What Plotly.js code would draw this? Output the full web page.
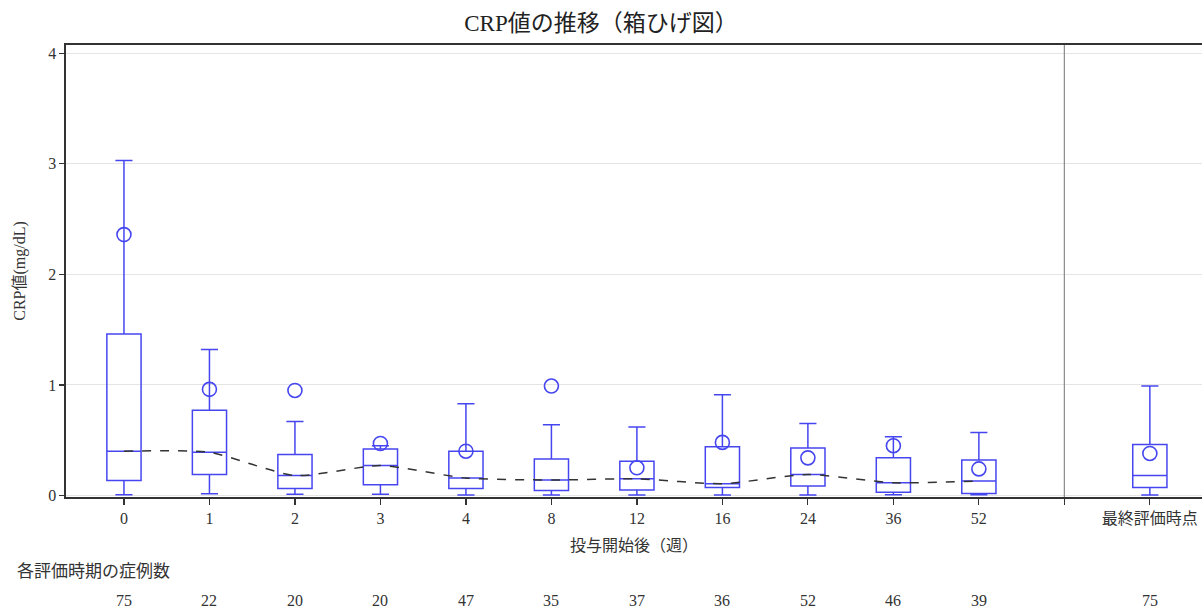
<!DOCTYPE html>
<html>
<head>
<meta charset="utf-8">
<script src="https://cdn.plot.ly/plotly-3.0.1.min.js"></script>
<style>
  html, body { margin: 0; padding: 0; background: #ffffff; }
  #chart { width: 1202px; height: 610px; }
</style>
</head>
<body>
<div id="chart"></div>
<script>
// Visit labels (weeks after start of dosing) and the final evaluation point
const categories = ['0', '1', '2', '3', '4', '8', '12', '16', '24', '36', '52', '最終評価時点'];
// Number of cases at each evaluation point
const counts = [75, 22, 20, 20, 47, 35, 37, 36, 52, 46, 39, 75];
// CRP (mg/dL) box statistics per visit
const lowerWhisker = [0.006, 0.015, 0.012, 0.012, 0.003, 0.003, 0.003, 0.003, 0.003, 0.006, 0.006, 0.003];
const q1Values     = [0.136, 0.19, 0.063, 0.097, 0.063, 0.045, 0.05, 0.072, 0.085, 0.03, 0.018, 0.072];
const medianValues = [0.40, 0.39, 0.18, 0.27, 0.157, 0.14, 0.15, 0.106, 0.19, 0.115, 0.13, 0.18];
const q3Values     = [1.46, 0.77, 0.37, 0.42, 0.40, 0.33, 0.31, 0.44, 0.43, 0.34, 0.32, 0.46];
const upperWhisker = [3.03, 1.32, 0.67, 0.45, 0.83, 0.64, 0.62, 0.91, 0.65, 0.53, 0.57, 0.99];
const meanValues   = [2.36, 0.96, 0.95, 0.47, 0.40, 0.99, 0.25, 0.48, 0.34, 0.45, 0.24, 0.38];
const yTicks = [0, 1, 2, 3, 4];

// Weekly visits sit on 0..10; the final evaluation is set apart after a divider slot
const nWeekly = categories.length - 1;
const positions = categories.map((c, i) => (i < nWeekly ? i : i + 1));
const dividerPos = nWeekly;

const BLUE = 'rgb(70,70,240)';
const FONT = "'Liberation Serif', 'Noto Sans CJK JP', serif";

const boxTrace = {
  type: 'box',
  x: positions,
  q1: q1Values,
  median: medianValues,
  q3: q3Values,
  lowerfence: lowerWhisker,
  upperfence: upperWhisker,
  width: 0.40,
  whiskerwidth: 0.5,
  boxpoints: false,
  line: { color: BLUE, width: 1.5 },
  fillcolor: 'rgba(255,255,255,0)',
  hoverinfo: 'skip',
  showlegend: false
};

const meanTrace = {
  type: 'scatter',
  mode: 'markers',
  x: positions,
  y: meanValues,
  marker: { symbol: 'circle-open', size: 14, color: BLUE, line: { width: 1.6, color: BLUE } },
  hoverinfo: 'skip',
  showlegend: false
};

// Median trend across weekly visits (final evaluation excluded)
const medianTrend = {
  type: 'scatter',
  mode: 'lines',
  x: positions.slice(0, nWeekly),
  y: medianValues.slice(0, nWeekly),
  line: { color: '#333333', width: 1.5, dash: 'dash', shape: 'spline', smoothing: 0.6 },
  hoverinfo: 'skip',
  showlegend: false
};

const tickVals = positions.slice(0, nWeekly).concat([dividerPos, positions[nWeekly]]);
const tickText = categories.slice(0, nWeekly).concat(['', categories[nWeekly]]);

const countAnnotations = counts.map((n, i) => ({
  x: positions[i], xref: 'x',
  y: -0.228, yref: 'paper',
  text: String(n), showarrow: false,
  font: { family: FONT, size: 16, color: '#333333' },
  xanchor: 'center', yanchor: 'middle'
}));

const layout = {
  width: 1202,
  height: 610,
  margin: { l: 66, r: 0, t: 45, b: 113 },
  paper_bgcolor: '#ffffff',
  plot_bgcolor: '#ffffff',
  font: { family: FONT, size: 16, color: '#333333' },
  title: {
    text: 'CRP値の推移（箱ひげ図）',
    font: { family: FONT, size: 23, color: '#222222' },
    x: 0.5, xanchor: 'center', y: 0.962, yanchor: 'middle'
  },
  xaxis: {
    range: [-0.678, 12.61],
    tickmode: 'array',
    tickvals: tickVals,
    ticktext: tickText,
    ticks: 'outside', ticklen: 6, tickwidth: 1.2, tickcolor: '#333333',
    showline: true, linecolor: '#333333', linewidth: 1.6, mirror: true,
    showgrid: false, zeroline: false,
    tickfont: { family: FONT, size: 16, color: '#333333' },
    title: { text: '投与開始後（週）', font: { family: FONT, size: 16, color: '#333333' }, standoff: 14 }
  },
  yaxis: {
    range: [-0.014, 4.075],
    tickmode: 'array',
    tickvals: yTicks,
    ticks: 'outside', ticklen: 5, tickwidth: 1.2, tickcolor: '#333333',
    showline: true, linecolor: '#333333', linewidth: 1.6,
    showgrid: true, gridcolor: '#e4e4e4', gridwidth: 1,
    zeroline: false,
    tickfont: { family: FONT, size: 16, color: '#333333' },
    title: { text: 'CRP値(mg/dL)', font: { family: FONT, size: 16, color: '#333333' }, standoff: 18 }
  },
  shapes: [
    {
      type: 'line', xref: 'x', yref: 'paper',
      x0: dividerPos, x1: dividerPos, y0: 0, y1: 1,
      line: { color: '#8a8a8a', width: 1.2 }
    }
  ],
  annotations: [
    {
      // left-aligned caption, 15px from the page edge
      x: (15 - 66) / 1136, xref: 'paper', y: -0.164, yref: 'paper',
      text: '各評価時期の症例数', showarrow: false,
      font: { family: FONT, size: 17, color: '#333333' },
      xanchor: 'left', yanchor: 'middle'
    }
  ].concat(countAnnotations)
};

Plotly.newPlot('chart', [boxTrace, medianTrend, meanTrace], layout, { staticPlot: true, displayModeBar: false });
</script>
</body>
</html>
